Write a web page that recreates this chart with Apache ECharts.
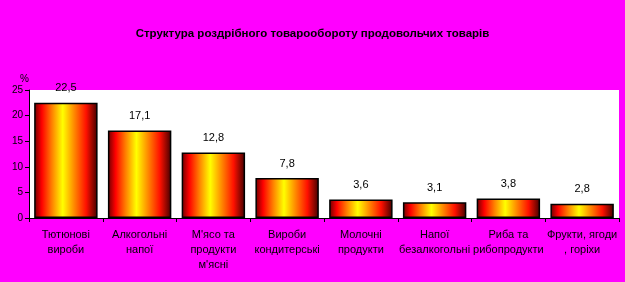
<!DOCTYPE html>
<html><head><meta charset="utf-8">
<script src="https://cdn.jsdelivr.net/npm/echarts@6/dist/echarts.min.js"></script>
<style>html,body{margin:0;padding:0;background:#ff00ff;}#c{width:625px;height:282px;}</style>
</head><body><div id="c"></div>
<script>
const categories = ["Тютюнові\nвироби","Алкогольні\nнапої","М'ясо та\nпродукти\nм'ясні","Вироби\nкондитерські","Молочні\nпродукти","Напої\nбезалкогольні","Риба та\nрибопродукти","Фрукти, ягоди\n, горіхи"];
const values = [22.5, 17.1, 12.8, 7.8, 3.6, 3.1, 3.8, 2.8];
const yTicks = [0, 5, 10, 15, 20, 25];

const grad = new echarts.graphic.LinearGradient(0,0,1,0,[
  {offset:0, color:'#6a0000'},
  {offset:0.12, color:'#ff0000'},
  {offset:0.28, color:'#ff8000'},
  {offset:0.45, color:'#ffff00'},
  {offset:0.62, color:'#ff9000'},
  {offset:0.82, color:'#ff1000'},
  {offset:1, color:'#400000'}
]);
const chart = echarts.init(document.getElementById('c'), null, {renderer:'canvas'});
chart.setOption({
  animation:false,
  backgroundColor:'#ff00ff',
  title:{text:'Структура роздрібного товарообороту продовольчих товарів', left:'center', top:23,
    textStyle:{fontFamily:'Liberation Sans, Arial', fontSize:11.5, fontWeight:'bold', color:'#000'}},
  grid:{left:29, right:6, top:90, bottom:64, show:true, backgroundColor:'#fff', borderWidth:0},
  xAxis:{type:'category', data:categories,
    axisLine:{lineStyle:{color:'#000', width:1}},
    axisTick:{show:true, length:4, lineStyle:{color:'#000'}},
    axisLabel:{interval:0, color:'#000', fontFamily:'Liberation Sans, Arial', fontSize:11, lineHeight:15, margin:9}},
  yAxis:{type:'value', min:0, max:25, interval:5, name:'%', nameLocation:'end', nameGap:6,
    nameTextStyle:{color:'#000', fontFamily:'Liberation Sans, Arial', fontSize:10, align:'right', padding:[0,0,0,0]},
    splitLine:{show:false},
    axisLine:{show:true, lineStyle:{color:'#000'}},
    axisTick:{show:true, length:4, lineStyle:{color:'#000'}},
    axisLabel:{color:'#000', fontFamily:'Liberation Sans, Arial', fontSize:10, margin:6,
      formatter:v=>yTicks.includes(v)?String(v):''}},
  series:[{type:'bar', data:values, barCategoryGap:'14%',
    itemStyle:{color:grad, borderColor:'#000', borderWidth:1.5},
    label:{show:true, position:'top', distance:9, color:'#000', fontFamily:'Liberation Sans, Arial', fontSize:11,
      formatter:p=>String(p.value).replace('.',',')}}]
});
</script></body></html>
